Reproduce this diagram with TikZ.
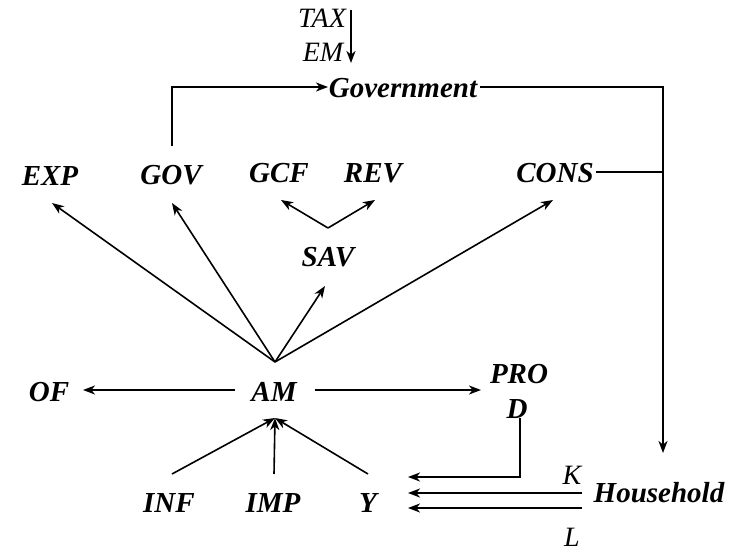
\documentclass[tikz,border=0pt]{standalone}
\usepackage{fontspec}
\setmainfont{Liberation Serif}
\usetikzlibrary{arrows.meta}
\begin{document}
\begin{tikzpicture}[x=1pt,y=-1pt,
  lab/.style={inner sep=0pt,anchor=center,font=\fontsize{29}{30}\selectfont\bfseries\itshape},
  small/.style={inner sep=0pt,anchor=center,font=\fontsize{28}{30}\selectfont\itshape},
  conn/.style={line width=1.6pt},
  arr/.style={line width=1.6pt,-{Stealth[length=12pt,width=9pt,inset=3.5pt]}}]
\useasboundingbox (0,0) rectangle (737,551);
% nodes
\node[small] (tax) at (322,18) {TAX};
\node[small] (em) at (323,52) {EM};
\node[lab] (gov0) at (403,88) {Government};
\node[lab] (exp) at (50,176) {EXP};
\node[lab] (gov) at (171,175) {GOV};
\node[lab] (gcf) at (279,173) {GCF};
\node[lab] (rev) at (373,173) {REV};
\node[lab] (cons) at (555,173) {CONS};
\node[lab] (sav) at (328,257) {SAV};
\node[lab] (of) at (49,392) {OF};
\node[lab] (am) at (274,392) {AM};
\node[lab] (pro) at (519,374) {PRO};
\node[lab] (d) at (517,409) {D};
\node[lab] (inf) at (169,503) {INF};
\node[lab] (imp) at (273,503) {IMP};
\node[lab] (y) at (368,503) {Y};
\node[lab] (hh) at (659,493) {Household};
\node[small] (k) at (572,475) {K};
\node[small] (l) at (572,537) {L};
% coordinates
\coordinate (taxtop) at (351,10);
\coordinate (emtip) at (351,63);
\coordinate (govtop) at (172,146);
\coordinate (govcorner) at (172,87);
\coordinate (govin) at (328,87);
\coordinate (govout) at (480,87);
\coordinate (rcorner) at (663,87);
\coordinate (hhin) at (663,453);
\coordinate (consline) at (663,172);
\coordinate (fan) at (275,362);
\coordinate (expin) at (52,203);
\coordinate (gvin) at (172,203);
\coordinate (savin) at (325,286);
\coordinate (consin) at (553,200);
\coordinate (vtx) at (328,228);
\coordinate (gcfin) at (281,200);
\coordinate (revin) at (375,200);
\coordinate (amleft) at (235,390);
\coordinate (ofin) at (83,390);
\coordinate (amright) at (315,390);
\coordinate (proin) at (481,390);
\coordinate (amlow) at (275,418);
\coordinate (infout) at (172,474);
\coordinate (impout) at (274,474);
\coordinate (yout) at (368,474);
\coordinate (dbot) at (520,418);
\coordinate (dcorner) at (520,477);
\coordinate (yin1) at (408,477);
\coordinate (hhk) at (582,493);
\coordinate (yin2) at (408,493);
\coordinate (hhl) at (582,508);
\coordinate (yin3) at (408,508);
% connectors
\draw[arr] (taxtop) -- (emtip);
\draw[arr] (govtop) -- (govcorner) -- (govin);
\draw[arr] (govout) -- (rcorner) -- (hhin);
\draw[conn] (cons.east) ++(2,-1) -- (consline);
\draw[arr] (fan) -- (expin);
\draw[arr] (fan) -- (gvin);
\draw[arr] (fan) -- (savin);
\draw[arr] (fan) -- (consin);
\draw[arr] (vtx) -- (gcfin);
\draw[arr] (vtx) -- (revin);
\draw[arr] (amleft) -- (ofin);
\draw[arr] (amright) -- (proin);
\draw[arr] (infout) -- (amlow);
\draw[arr] (impout) -- (amlow);
\draw[arr] (yout) -- (amlow);
\draw[arr] (dbot) -- (dcorner) -- (yin1);
\draw[arr] (hhk) -- (yin2);
\draw[arr] (hhl) -- (yin3);
\end{tikzpicture}
\end{document}
